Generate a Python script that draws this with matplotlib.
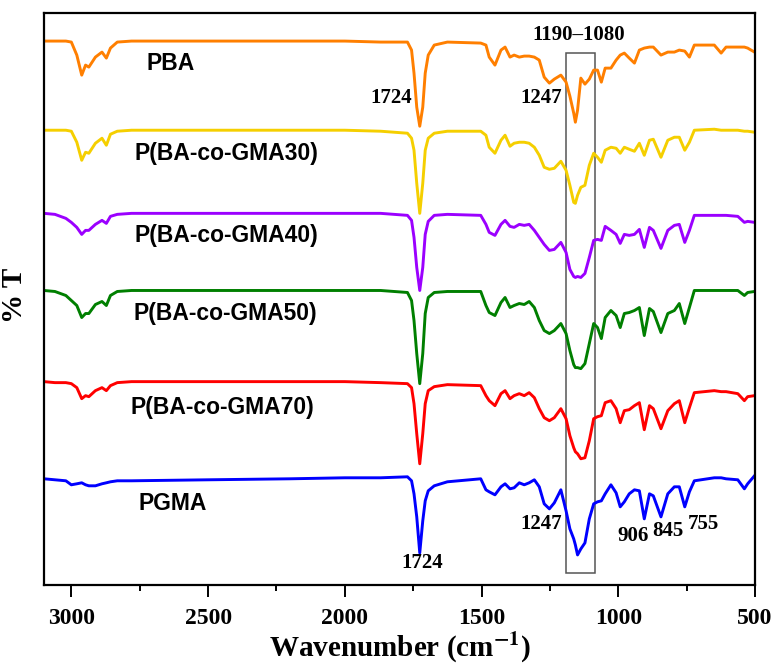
import numpy as np
import matplotlib
matplotlib.use("Agg")
import matplotlib.pyplot as plt
from matplotlib.patches import Rectangle

plt.rcParams['mathtext.fontset'] = 'stix'

# wavenumber grid (cm-1) shared by all spectra
wn = [3100, 3060, 3020, 3000, 2980, 2962, 2948, 2936, 2912, 2888, 2872, 2857, 2832, 2780,
      2500, 2200, 2000,
      1869, 1771, 1756, 1747, 1737, 1726, 1715, 1706, 1695, 1673, 1625, 1503, 1484, 1472,
      1451, 1429, 1414, 1396, 1381, 1362, 1344, 1326, 1307, 1289, 1271, 1252, 1234, 1210,
      1191, 1177, 1163, 1157, 1149, 1137, 1122, 1106, 1090, 1076, 1062, 1048, 1027, 1008,
      993, 978, 960, 941, 923, 905, 886, 872, 844, 819, 795, 777, 757, 740, 722, 649,
      624, 606, 563, 539, 527, 502]

# transmittance relative to each spectrum's own baseline (arb. units)
pba = [0, 0, 0, -1, -14, -34, -24, -26, -16, -11, -17, -7, -1, 0,
       0, 0, 0,
       -1, -1, -9, -32, -66, -85, -66, -32, -14, -4, -1, -2, -4, -16,
       -24, -9, -6, -16, -14, -16, -15, -15, -16, -19, -36, -42, -38, -34,
       -41, -55, -72, -81, -69, -37, -43, -38, -29, -29, -41, -27, -27, -19,
       -14, -12, -17, -22, -9, -7, -6, -6, -14, -11, -11, -9, -10, -16, -4, -4,
       -12, -6, -6, -6, -7, -11]
gma30 = [0, 0, 0, -1, -12, -30, -22, -23, -13, -8, -15, -4, -1, 0,
         0, 0, 0,
         -1, -3, -8, -20, -53, -83, -53, -20, -8, -3, -1, -1, -5, -17,
         -23, -10, -5, -16, -13, -12, -12, -13, -17, -25, -37, -39, -38, -31,
         -40, -55, -72, -73, -65, -57, -55, -35, -23, -27, -32, -20, -17, -18,
         -23, -17, -19, -21, -13, -25, -10, -9, -27, -10, -7, -7, -20, -12, 0, 1,
         0, 0, 0, -1, -1, -2]
gma40 = [0, -1, -5, -9, -14, -21, -17, -17, -11, -7, -10, -3, -1, 0,
         0, 0, 0,
         0, -2, -7, -24, -54, -77, -54, -21, -8, -2, -1, -2, -11, -19,
         -22, -11, -7, -13, -14, -11, -12, -11, -17, -24, -31, -37, -36, -29,
         -39, -56, -63, -64, -63, -64, -60, -44, -27, -26, -27, -13, -17, -21,
         -30, -21, -22, -21, -16, -34, -14, -17, -35, -17, -12, -11, -29, -17, -2, -2,
         -2, -2, -3, -9, -8, -9]
gma50 = [0, -1, -5, -10, -15, -27, -23, -23, -14, -11, -15, -5, -1, 0,
         0, 0, 0,
         0, -2, -10, -30, -63, -93, -63, -23, -7, -2, -1, -1, -15, -22,
         -25, -12, -7, -17, -15, -13, -14, -11, -17, -30, -40, -43, -40, -33,
         -43, -60, -74, -77, -77, -78, -73, -53, -33, -37, -48, -27, -20, -25,
         -37, -23, -22, -20, -17, -45, -18, -21, -42, -23, -20, -13, -33, -17, 0, 0,
         0, 0, 0, -5, -2, -1]
gma70 = [0, -1, -1, -2, -6, -17, -14, -15, -9, -6, -9, -4, -1, 0,
         0, 0, 0,
         -1, -2, -6, -22, -52, -82, -52, -22, -9, -5, -3, -4, -14, -19,
         -24, -12, -9, -17, -14, -12, -14, -11, -16, -27, -36, -39, -36, -27,
         -37, -54, -66, -70, -72, -77, -76, -59, -37, -35, -34, -21, -19, -27,
         -41, -29, -28, -24, -21, -48, -24, -27, -47, -29, -22, -19, -41, -26, -11, -9,
         -10, -10, -12, -19, -15, -14]
pgma = [0, -1, -2, -6, -5, -4, -6, -7, -7, -5, -4, -3, -2, -2,
        -1, 0, 1,
        1, 2, -2, -15, -38, -74, -42, -22, -12, -7, -3, 0, -11, -13,
        -16, -8, -5, -10, -9, -4, -6, -4, -1, -8, -25, -30, -24, -11,
        -32, -50, -60, -66, -76, -70, -64, -40, -25, -23, -22, -15, -6, -14,
        -28, -23, -15, -11, -12, -40, -15, -17, -38, -15, -8, -8, -28, -13, -2, 1,
        1, 0, -1, -10, -5, 3]

names = ['PBA', 'P(BA-co-GMA30)', 'P(BA-co-GMA40)', 'P(BA-co-GMA50)',
         'P(BA-co-GMA70)', 'PGMA']
spectra = [pba, gma30, gma40, gma50, gma70, pgma]
colors = ['#FF7F00', '#F5CF00', '#9B00FF', '#007F00', '#FF0000', '#0000FF']
offsets = [559, 470, 387, 310, 219, 122]
label_pos = [(2725, 537), (2769, 447), (2769, 365), (2772, 287), (2784, 193), (2754, 97)]

fig = plt.figure(figsize=(7.8, 6.68), dpi=100)
ax = fig.add_axes([0.0564, 0.1243, 0.9116, 0.8562])

for y, c, off, name, (lx, ly) in zip(spectra, colors, offsets, names, label_pos):
    ax.plot(wn, np.array(y) + off, color=c, lw=2.1, solid_joinstyle='round')
    ax.text(lx, ly, name, fontsize=16.5, fontweight='bold', family='Liberation Sans',
            ha='left', va='center')

# peak annotations
ann = [('1724', 1832, 502), ('1247', 1281, 502), ('1190\u20131080', 1144, 565),
       ('1247', 1281, 77), ('1724', 1716, 38), ('906', 947, 65), ('845', 819, 70),
       ('755', 688, 77)]
for s, x, y in ann:
    ax.text(x, y, s, fontsize=15, fontweight='bold', family='Liberation Serif',
            ha='center', va='center')

ax.add_patch(Rectangle((1085, 28), 1191 - 1085, 547 - 28, fill=False,
                       edgecolor='#555555', lw=1.1))

ax.set_xlim(3100, 500)
ax.set_ylim(16, 587)
ax.set_yticks([])
ax.set_xticks([3000, 2500, 2000, 1500, 1000, 500])
ax.set_xticks([2750, 2250, 1750, 1250, 750], minor=True)
ax.tick_params(axis='x', which='major', direction='out', length=8.5, width=1.4, pad=8)
ax.tick_params(axis='x', which='minor', direction='out', length=4.5, width=1.4)
for lab in ax.get_xticklabels():
    lab.set_family('Liberation Serif')
    lab.set_fontweight('bold')
    lab.set_fontsize(17)
for sp in ax.spines.values():
    sp.set_linewidth(1.6)

fig.text(399.5 / 780, 1 - 657 / 668, r'Wavenumber (cm$^{\mathbf{-1}}$)', fontsize=21,
         fontweight='bold', family='Liberation Serif', ha='center', va='baseline')
fig.text(15 / 780, 1 - 295 / 668, '% T', fontsize=21, fontweight='bold',
         family='Liberation Serif', rotation=90, ha='center', va='center')

fig.savefig('out.png', dpi=100)
